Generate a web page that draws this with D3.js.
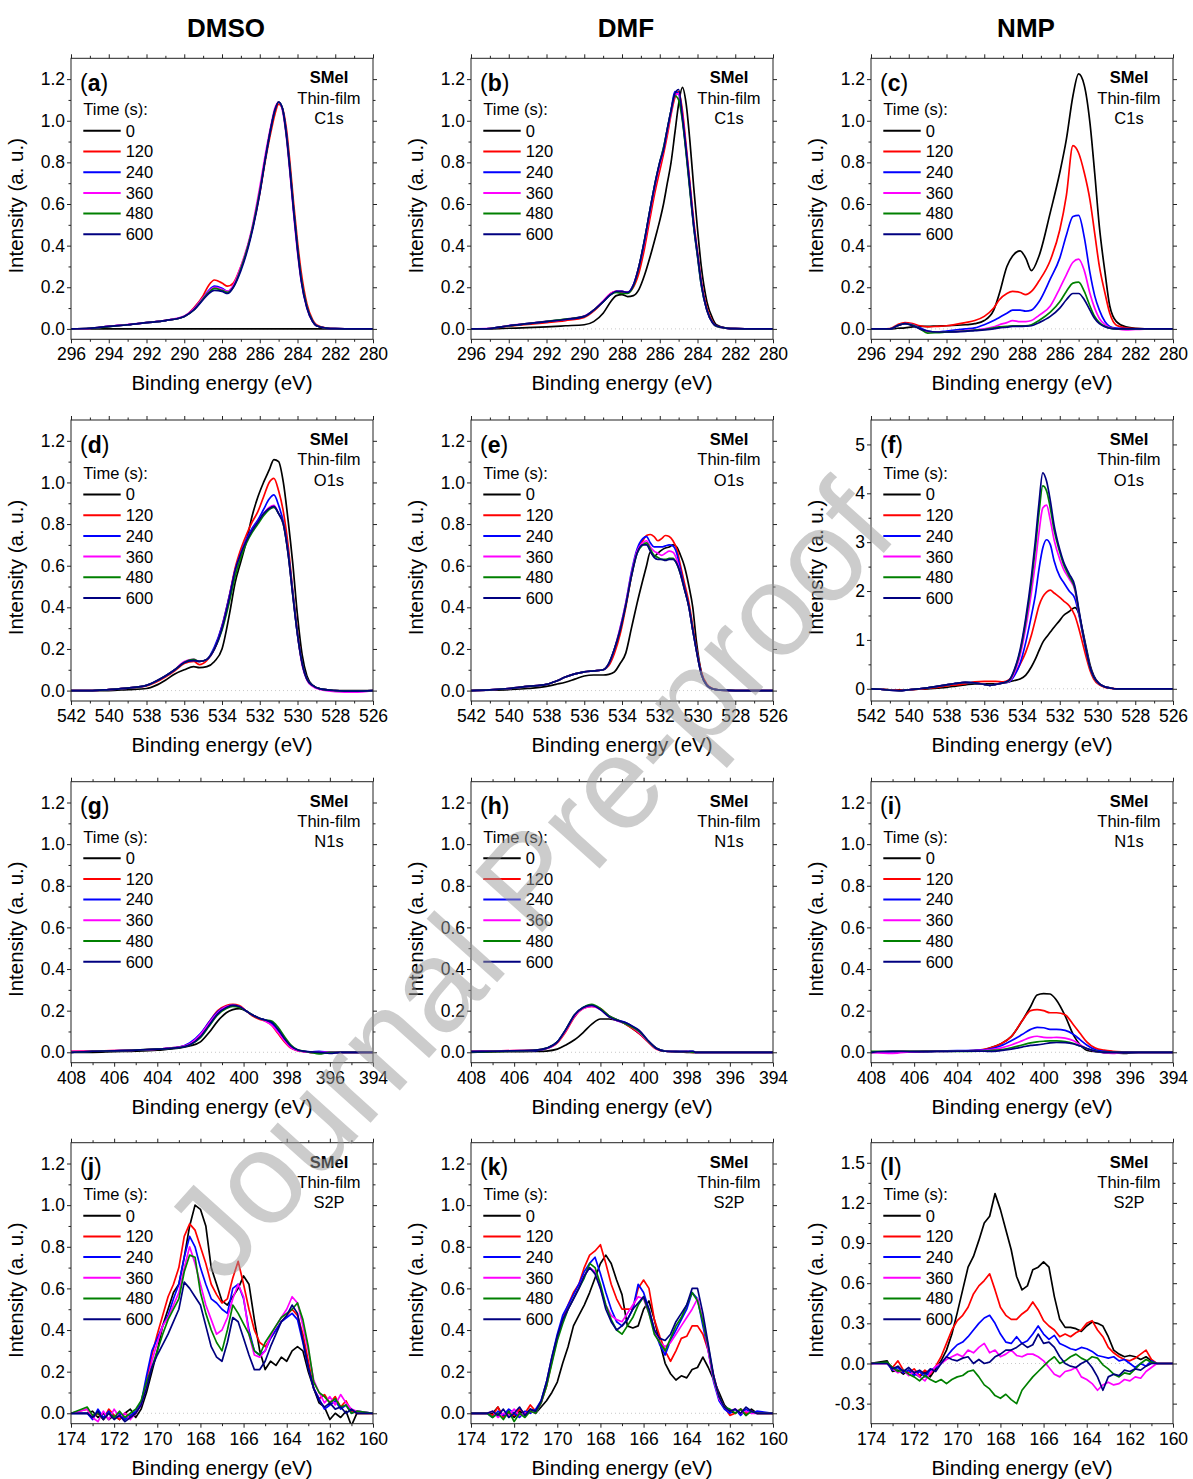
<!DOCTYPE html>
<html><head><meta charset="utf-8">
<script src="https://cdn.jsdelivr.net/npm/d3@7"></script>
<style>
body{margin:0;background:#fff}
svg{display:block}
text{font-family:"Liberation Sans",Arial,sans-serif;fill:#000}
</style></head>
<body><svg id="chart" width="1193" height="1479"></svg>
<script>
// ---------------- data ----------------
const solvents = ["DMSO", "DMF", "NMP"];
const times = ["0", "120", "240", "360", "480", "600"];
const seriesColors = ["#000000", "#ff0000", "#0000ff", "#ff00ff", "#008000", "#000080"];
const panelLetters = ["a","b","c","d","e","f","g","h","i","j","k","l"];
const coreLevels = ["C1s", "O1s", "N1s", "S2P"];
const sampleName = "SMeI";
const sampleType = "Thin-film";

const xTicksC = [296, 294, 292, 290, 288, 286, 284, 282, 280];
const xTicksO = [542, 540, 538, 536, 534, 532, 530, 528, 526];
const xTicksN = [408, 406, 404, 402, 400, 398, 396, 394];
const xTicksS = [174, 172, 170, 168, 166, 164, 162, 160];
const yTicksStd = [0, 0.2, 0.4, 0.6, 0.8, 1.0, 1.2];
const yTicksF = [0, 1, 2, 3, 4, 5];
const yTicksL = [-0.3, 0, 0.3, 0.6, 0.9, 1.2, 1.5];

// (a) DMSO C1s
const eA = [296,295,294,293,292,291,290,289.5,289,288.7,288.4,288,287.7,287.4,287,286.5,286,285.7,285.4,285.2,285,284.8,284.6,284.4,284.2,284,283.8,283.5,283.2,283,282.5,282,281,280];
const yA0 = [0,0,0,0,0,0,0,0,0,0,0,0,0,0,0,0,0,0,0,0,0,0,0,0,0,0,0,0,0,0,0,0,0,0];
const yA120 = [0,0.003,0.012,0.02,0.03,0.04,0.06,0.1,0.16,0.21,0.235,0.22,0.205,0.22,0.3,0.44,0.65,0.81,0.95,1.03,1.08,1.06,0.97,0.8,0.6,0.42,0.27,0.12,0.045,0.02,0.005,0.001,0,0];
const yA240 = [0,0.003,0.012,0.02,0.03,0.04,0.06,0.095,0.15,0.185,0.205,0.195,0.18,0.205,0.29,0.44,0.66,0.82,0.97,1.05,1.09,1.06,0.95,0.77,0.57,0.39,0.24,0.105,0.038,0.016,0.004,0.001,0,0];
const yA360 = [0,0.002,0.012,0.021,0.03,0.041,0.062,0.095,0.15,0.18,0.2,0.19,0.18,0.21,0.3,0.45,0.68,0.84,0.98,1.06,1.09,1.05,0.93,0.75,0.55,0.37,0.23,0.1,0.035,0.015,0.004,0.001,0,0];
const yA480 = [0,0.003,0.011,0.02,0.03,0.04,0.06,0.09,0.145,0.175,0.195,0.185,0.175,0.2,0.29,0.44,0.66,0.82,0.97,1.05,1.09,1.06,0.94,0.77,0.57,0.39,0.24,0.105,0.037,0.015,0.004,0.001,0,0];
const yA600 = [0,0.003,0.012,0.02,0.03,0.04,0.06,0.09,0.14,0.17,0.185,0.18,0.17,0.2,0.28,0.43,0.65,0.82,0.97,1.05,1.09,1.06,0.94,0.76,0.56,0.38,0.23,0.1,0.035,0.015,0.004,0.001,0,0];

// (b) DMF C1s
const eB = [296,295,294,293,292,291,290,289.5,289,288.6,288.3,288,287.7,287.4,287.1,286.8,286.5,286.2,286,285.8,285.6,285.4,285.2,285,284.8,284.6,284.4,284.2,284,283.8,283.5,283.2,283,282.5,282,281,280];
const yB0 = [0,0,0.003,0.006,0.01,0.015,0.02,0.035,0.075,0.13,0.16,0.165,0.155,0.16,0.19,0.26,0.35,0.45,0.52,0.6,0.7,0.8,0.94,1.08,1.16,1.08,0.9,0.68,0.48,0.3,0.13,0.05,0.02,0.005,0.001,0,0];
const yB120 = [0,0.002,0.013,0.022,0.03,0.04,0.055,0.085,0.13,0.17,0.18,0.175,0.175,0.2,0.27,0.39,0.54,0.68,0.76,0.84,0.93,1.03,1.11,1.14,1.05,0.88,0.7,0.52,0.37,0.23,0.1,0.035,0.015,0.004,0.001,0,0];
const yB240 = [0,0.002,0.015,0.025,0.035,0.045,0.06,0.09,0.13,0.165,0.18,0.18,0.175,0.21,0.3,0.43,0.58,0.72,0.8,0.87,0.96,1.05,1.14,1.13,1.01,0.85,0.67,0.49,0.35,0.21,0.09,0.03,0.013,0.004,0.001,0,0];
const yB360 = [0,0.003,0.016,0.026,0.036,0.046,0.062,0.09,0.135,0.17,0.18,0.18,0.175,0.21,0.3,0.42,0.57,0.71,0.79,0.86,0.95,1.04,1.12,1.13,1.03,0.86,0.68,0.5,0.36,0.22,0.09,0.03,0.013,0.004,0.001,0,0];
const yB480 = [0,0.002,0.015,0.025,0.036,0.047,0.06,0.09,0.13,0.165,0.175,0.17,0.17,0.205,0.3,0.43,0.58,0.72,0.8,0.87,0.96,1.05,1.12,1.1,1.0,0.84,0.66,0.49,0.35,0.21,0.09,0.03,0.013,0.004,0.001,0,0];
const yB600 = [0,0.002,0.015,0.025,0.035,0.045,0.06,0.09,0.13,0.165,0.18,0.18,0.175,0.21,0.3,0.43,0.58,0.72,0.8,0.86,0.96,1.05,1.13,1.15,1.02,0.86,0.68,0.5,0.36,0.22,0.09,0.03,0.015,0.004,0.001,0,0];

// (c) NMP C1s
const eC = [296,295,294.6,294.2,293.8,293.4,293,292.5,292,291,290.5,290,289.5,289.2,288.8,288.5,288.1,287.8,287.5,287.1,286.5,286,285.65,285.3,285,284.7,284.4,284.15,283.9,283.6,283.35,283,282.5,282,281,280];
const yC0 = [0,0,0.003,0.005,0.01,0.012,0.012,0.014,0.015,0.02,0.025,0.04,0.09,0.17,0.3,0.35,0.375,0.34,0.28,0.35,0.56,0.75,0.91,1.12,1.225,1.17,0.99,0.75,0.49,0.27,0.11,0.035,0.01,0.003,0,0];
const yC120 = [0,0.002,0.02,0.03,0.025,0.015,0.01,0.012,0.015,0.03,0.04,0.06,0.1,0.14,0.17,0.18,0.175,0.165,0.18,0.23,0.33,0.475,0.64,0.88,0.845,0.75,0.62,0.46,0.3,0.17,0.075,0.018,0.005,0.001,0,0];
const yC240 = [0,0,0.015,0.025,0.02,0.005,-0.01,-0.015,-0.01,0,0.005,0.02,0.04,0.055,0.075,0.09,0.09,0.085,0.09,0.13,0.24,0.34,0.45,0.54,0.545,0.44,0.27,0.16,0.09,0.034,0.012,0.004,0.001,0,0,0];
const yC360 = [0,0,0.015,0.025,0.02,0,-0.015,-0.015,-0.015,-0.008,-0.004,0,0.01,0.02,0.03,0.04,0.035,0.035,0.04,0.065,0.11,0.195,0.26,0.32,0.335,0.28,0.17,0.1,0.05,0.02,0.006,0,-0.005,-0.003,0,0];
const yC480 = [0,0,0.015,0.025,0.018,0,-0.02,-0.018,-0.015,-0.01,-0.006,-0.003,0.005,0.01,0.012,0.015,0.015,0.015,0.02,0.04,0.08,0.13,0.18,0.22,0.225,0.18,0.11,0.06,0.03,0.012,0.004,0,0,0,0,0];
const yC600 = [0,0,0.015,0.025,0.015,0,-0.01,-0.015,-0.015,-0.012,-0.008,-0.005,0,0.005,0.008,0.012,0.012,0.013,0.015,0.03,0.06,0.1,0.14,0.17,0.17,0.14,0.09,0.05,0.025,0.01,0.003,0,0,0,0,0];

// (d) DMSO O1s
const eD = [542,541,540,539,538,537.5,537,536.5,536,535.5,535.2,534.8,534.4,534,533.6,533.3,533,532.7,532.4,532.1,531.8,531.5,531.25,531,530.75,530.5,530.25,530,529.75,529.5,529.2,528.8,528,527,526];
const yD0 = [0,0,0,0.005,0.01,0.025,0.05,0.08,0.1,0.115,0.11,0.115,0.14,0.2,0.37,0.52,0.62,0.72,0.84,0.93,1.0,1.06,1.11,1.1,1.0,0.82,0.61,0.36,0.17,0.07,0.025,0.008,0,0,0];
const yD120 = [0,0,0.005,0.012,0.022,0.04,0.065,0.095,0.13,0.14,0.125,0.145,0.2,0.31,0.46,0.59,0.68,0.75,0.81,0.86,0.93,1.0,1.02,0.96,0.86,0.7,0.48,0.28,0.13,0.055,0.025,0.008,0,-0.003,0];
const yD240 = [0,0,0.005,0.012,0.025,0.045,0.07,0.1,0.135,0.145,0.14,0.15,0.21,0.31,0.46,0.58,0.66,0.73,0.78,0.82,0.87,0.92,0.94,0.89,0.81,0.67,0.47,0.27,0.13,0.055,0.025,0.008,0,-0.003,0];
const yD360 = [0,0,0.005,0.012,0.025,0.045,0.07,0.1,0.14,0.15,0.14,0.15,0.2,0.3,0.45,0.58,0.66,0.72,0.77,0.81,0.85,0.88,0.89,0.85,0.8,0.66,0.46,0.27,0.12,0.05,0.02,0.005,-0.005,-0.008,0];
const yD480 = [0,0,0.005,0.012,0.025,0.045,0.07,0.1,0.135,0.15,0.14,0.15,0.2,0.29,0.43,0.55,0.64,0.71,0.76,0.8,0.84,0.87,0.88,0.85,0.8,0.66,0.46,0.27,0.13,0.055,0.025,0.008,0,-0.003,0];
const yD600 = [0,0,0.005,0.012,0.025,0.045,0.07,0.1,0.135,0.145,0.14,0.15,0.2,0.3,0.45,0.58,0.66,0.72,0.77,0.81,0.85,0.875,0.885,0.85,0.8,0.66,0.46,0.27,0.13,0.055,0.025,0.008,0,-0.003,0];

// (e) DMF O1s
const eE = [542,541,540,539,538,537.5,537,536.5,536,535.5,535,534.7,534.4,534.1,533.8,533.5,533.2,532.9,532.7,532.5,532.3,532.1,531.9,531.7,531.5,531.3,531.1,530.9,530.7,530.45,530.25,530.05,529.8,529.5,529.2,528.8,528,526];
const yE0 = [0,0.002,0.005,0.01,0.02,0.03,0.04,0.055,0.07,0.075,0.075,0.078,0.09,0.13,0.18,0.3,0.42,0.53,0.6,0.665,0.645,0.66,0.675,0.685,0.69,0.7,0.69,0.65,0.6,0.5,0.4,0.23,0.09,0.025,0.008,0.002,0,0];
const yE120 = [0,0.003,0.01,0.02,0.03,0.045,0.065,0.08,0.09,0.095,0.1,0.12,0.18,0.27,0.4,0.55,0.67,0.72,0.745,0.75,0.74,0.72,0.73,0.745,0.74,0.72,0.68,0.6,0.52,0.42,0.31,0.2,0.09,0.03,0.01,0.002,0,0];
const yE240 = [0,0.003,0.01,0.02,0.03,0.045,0.065,0.08,0.09,0.095,0.1,0.13,0.2,0.3,0.42,0.57,0.68,0.73,0.74,0.71,0.69,0.69,0.69,0.695,0.7,0.695,0.66,0.58,0.5,0.4,0.29,0.19,0.08,0.025,0.008,0.002,0,0];
const yE360 = [0,0.003,0.01,0.02,0.03,0.045,0.065,0.08,0.09,0.095,0.1,0.13,0.2,0.3,0.42,0.56,0.67,0.71,0.72,0.69,0.67,0.66,0.65,0.66,0.67,0.665,0.63,0.56,0.49,0.4,0.29,0.19,0.08,0.025,0.008,0.002,0,0];
const yE480 = [0,0.003,0.01,0.02,0.03,0.045,0.065,0.08,0.09,0.095,0.1,0.13,0.2,0.29,0.41,0.55,0.66,0.7,0.71,0.68,0.65,0.64,0.63,0.63,0.635,0.635,0.61,0.56,0.49,0.4,0.29,0.19,0.08,0.025,0.008,0.002,0,0];
const yE600 = [0,0.003,0.01,0.02,0.03,0.045,0.065,0.08,0.09,0.095,0.1,0.13,0.2,0.29,0.41,0.55,0.66,0.7,0.7,0.67,0.64,0.63,0.63,0.625,0.63,0.63,0.61,0.56,0.49,0.4,0.29,0.19,0.08,0.025,0.008,0.002,0,0];

// (f) NMP O1s
const eF = [542,541.5,541,540.5,540,539.5,539,538.5,538,537.5,537,536.5,536,535.7,535.4,535,534.7,534.4,534.1,533.8,533.5,533.3,533.1,532.9,532.7,532.5,532.3,532,531.8,531.5,531.2,531,530.8,530.6,530.4,530.2,529.9,529.6,529.3,529,528,526];
const yF0 = [0,-0.01,-0.02,-0.02,-0.02,-0.01,0,0.015,0.03,0.055,0.08,0.1,0.1,0.1,0.1,0.12,0.14,0.17,0.2,0.28,0.45,0.6,0.78,0.95,1.06,1.16,1.26,1.4,1.5,1.58,1.66,1.55,1.22,0.85,0.5,0.27,0.1,0.04,0.015,0,0,0];
const yF120 = [0,-0.01,-0.02,-0.03,-0.02,-0.01,0.01,0.03,0.06,0.08,0.1,0.14,0.15,0.15,0.15,0.14,0.18,0.3,0.5,0.75,1.1,1.4,1.7,1.88,1.98,2.02,1.96,1.87,1.8,1.7,1.5,1.25,0.95,0.65,0.38,0.2,0.08,0.03,0.01,0,0,0];
const yF240 = [0,-0.01,-0.03,-0.04,-0.02,0,0.02,0.05,0.08,0.11,0.13,0.12,0.09,0.07,0.09,0.12,0.14,0.27,0.52,0.95,1.5,1.9,2.45,2.88,3.05,2.95,2.62,2.3,2.18,2.0,1.85,1.55,1.15,0.78,0.44,0.24,0.1,0.04,0.015,0,0,0];
const yF360 = [0,-0.01,-0.03,-0.04,-0.02,0,0.02,0.05,0.08,0.11,0.13,0.12,0.09,0.07,0.09,0.12,0.15,0.33,0.68,1.25,1.98,2.55,3.2,3.7,3.76,3.45,3.05,2.65,2.45,2.25,2.02,1.6,1.17,0.78,0.44,0.24,0.1,0.04,0.015,0,0,0];
const yF480 = [0,-0.01,-0.03,-0.04,-0.02,0,0.02,0.05,0.08,0.11,0.13,0.12,0.09,0.07,0.09,0.12,0.16,0.38,0.76,1.38,2.18,2.85,3.6,4.15,4.05,3.7,3.25,2.8,2.55,2.3,2.05,1.62,1.18,0.79,0.44,0.24,0.1,0.04,0.015,0,0,0];
const yF600 = [0,-0.01,-0.03,-0.04,-0.02,0,0.02,0.05,0.08,0.11,0.13,0.12,0.09,0.07,0.09,0.12,0.17,0.4,0.8,1.45,2.3,3.0,3.8,4.42,4.25,3.85,3.35,2.85,2.6,2.35,2.1,1.65,1.2,0.8,0.45,0.25,0.1,0.04,0.015,0,0,0];

// (g) DMSO N1s
const eG = [408,407,406,405,404,403.5,403,402.5,402,401.6,401.2,400.8,400.5,400.2,399.9,399.6,399.3,399,398.7,398.4,398.1,397.8,397.5,397.2,396.9,396.5,396,395.5,394];
const yG0 = [0,0,0.003,0.005,0.01,0.015,0.02,0.03,0.05,0.095,0.15,0.19,0.205,0.21,0.2,0.18,0.165,0.155,0.14,0.105,0.06,0.025,0.01,0.004,0,0,0,0,0];
const yG120 = [0.005,0.006,0.008,0.01,0.015,0.02,0.025,0.04,0.085,0.145,0.2,0.225,0.23,0.225,0.2,0.175,0.16,0.15,0.13,0.09,0.05,0.02,0.008,0.003,0,0,0,0,0];
const yG240 = [0,0.005,0.007,0.01,0.015,0.02,0.025,0.045,0.09,0.145,0.195,0.22,0.225,0.22,0.2,0.18,0.165,0.155,0.14,0.1,0.06,0.025,0.01,0.004,0.002,0.005,0,0,0];
const yG360 = [0.005,0.005,0.008,0.01,0.015,0.02,0.025,0.04,0.085,0.14,0.19,0.22,0.225,0.22,0.2,0.18,0.165,0.15,0.13,0.095,0.055,0.022,0.008,0.003,0,0,0,0,0];
const yG480 = [0,0.005,0.007,0.01,0.015,0.018,0.022,0.035,0.07,0.125,0.18,0.21,0.22,0.215,0.2,0.18,0.165,0.155,0.15,0.12,0.075,0.035,0.012,0.005,0,-0.008,0,0,0];
const yG600 = [0,0.005,0.007,0.01,0.015,0.018,0.022,0.035,0.075,0.13,0.185,0.215,0.225,0.22,0.2,0.18,0.165,0.155,0.145,0.11,0.065,0.03,0.012,0.005,0.002,0,-0.005,0,0];

// (h) DMF N1s
const eH = [408,407,406,405,404.5,404,403.6,403.2,402.8,402.4,402,401.6,401.2,400.9,400.6,400.2,399.8,399.4,399,398.5,398,397.7,397.6,396,394];
const yH0 = [0,0.002,0.003,0.004,0.006,0.015,0.035,0.06,0.095,0.135,0.16,0.16,0.152,0.14,0.12,0.09,0.055,0.02,0.006,0.003,0,0,0,0,0];
const yH120 = [0.005,0.006,0.008,0.01,0.018,0.045,0.1,0.17,0.21,0.22,0.21,0.175,0.155,0.14,0.12,0.09,0.05,0.015,0.005,0.003,0.002,0,0,0,0];
const yH240 = [0.003,0.005,0.007,0.008,0.018,0.05,0.11,0.175,0.215,0.225,0.205,0.175,0.155,0.145,0.13,0.1,0.055,0.018,0.006,0.004,0.005,0.005,0,0,0];
const yH360 = [0.005,0.006,0.008,0.01,0.018,0.048,0.105,0.175,0.21,0.22,0.205,0.17,0.15,0.14,0.125,0.095,0.052,0.016,0.005,0.003,0.004,0,0,0,0];
const yH480 = [0.003,0.004,0.006,0.01,0.02,0.05,0.11,0.18,0.215,0.23,0.21,0.175,0.155,0.14,0.125,0.1,0.055,0.018,0.005,0.003,0.003,0,0,0,0];
const yH600 = [0.003,0.005,0.007,0.01,0.02,0.05,0.11,0.18,0.215,0.225,0.205,0.17,0.152,0.145,0.13,0.105,0.058,0.018,0.005,0.003,0.003,0.005,0,0,0];

// (i) NMP N1s
const eI = [408,407,406,405,404,403,402.5,402,401.5,401,400.6,400.3,400,399.7,399.4,399,398.6,398.3,398,397.6,397.2,396.8,396.3,395.6,394];
const yI0 = [0,0.003,0.003,0.005,0.005,0.008,0.02,0.04,0.075,0.15,0.22,0.275,0.282,0.28,0.25,0.175,0.08,0.035,0.01,0.003,0,-0.003,-0.005,0,0];
const yI120 = [0,0.003,0.003,0.005,0.005,0.01,0.02,0.04,0.075,0.15,0.2,0.205,0.2,0.19,0.19,0.18,0.13,0.09,0.05,0.02,0.01,0.005,0.002,0,0];
const yI240 = [0,0.002,0.003,0.005,0.008,0.01,0.015,0.03,0.055,0.085,0.11,0.12,0.118,0.11,0.11,0.105,0.085,0.06,0.035,0.012,0.004,0,0,0,0];
const yI360 = [0,-0.005,0.003,0.004,0.005,0.008,0.012,0.02,0.035,0.055,0.072,0.077,0.072,0.07,0.072,0.068,0.055,0.035,0.018,0.005,-0.003,-0.005,0,0,0];
const yI480 = [0.005,0.005,0.005,0.004,0.004,0.005,0.008,0.012,0.022,0.035,0.045,0.05,0.053,0.055,0.055,0.052,0.042,0.03,0.018,0.006,0,0,0,0,0];
const yI600 = [0,0.005,0.003,0.004,0.005,0.006,0.004,0.008,0.015,0.025,0.033,0.036,0.04,0.045,0.047,0.046,0.04,0.03,0.018,0.005,0,0,0,0,0];

// S2P energy grid (j, k, l)
const eS = [174,173.25,173,172.75,172.5,172.25,172,171.75,171.5,171.25,171,170.75,170.5,170.25,170,169.75,169.5,169.25,169,168.75,168.5,168.25,168,167.75,167.5,167.25,167,166.75,166.5,166.25,166,165.75,165.5,165.25,165,164.75,164.5,164.25,164,163.75,163.5,163.25,163,162.75,162.5,162.25,162,161.75,161.5,161.25,161,160.75,160];

// (j) DMSO S2P
const yJ0 = [0, 0,0.01,-0.02,0,-0.03,-0.01,-0.03,0,0.02,-0.02, 0.02,0.1,0.2,0.3,0.42,0.5,0.58,0.62,0.75,0.9, 1.0,0.98,0.9,0.7,0.62,0.54,0.52,0.56,0.6,0.66, 0.62,0.45,0.3,0.21,0.25,0.23,0.27,0.25,0.3,0.32, 0.3,0.2,0.12,0.05,0.03,-0.03,0,-0.02,0.01,-0.06,0, 0];
const yJ120 = [0, 0.02,-0.02,0,-0.03,0.02,-0.01,-0.03,0,-0.02,0, 0.05,0.15,0.28,0.38,0.47,0.56,0.62,0.7,0.85,0.91, 0.88,0.8,0.72,0.62,0.57,0.53,0.55,0.65,0.73,0.62, 0.5,0.4,0.34,0.32,0.36,0.4,0.44,0.47,0.5,0.47, 0.38,0.25,0.12,0.07,0.09,0.05,0.08,0.03,0.06,0.01,0, 0];
const yJ240 = [0, 0,-0.03,0.02,-0.02,0.01,-0.02,0,-0.03,-0.01,0.01, 0.05,0.18,0.3,0.36,0.42,0.47,0.55,0.62,0.75,0.85, 0.8,0.7,0.62,0.55,0.53,0.5,0.48,0.6,0.62,0.55, 0.4,0.3,0.28,0.3,0.36,0.4,0.44,0.46,0.48,0.45, 0.34,0.22,0.12,0.07,0.02,0.04,0.06,0.02,0.04,0,0.01, 0];
const yJ360 = [0, 0.02,-0.02,-0.04,0.01,-0.03,0.02,-0.02,0,-0.03,0, 0.04,0.13,0.25,0.34,0.42,0.46,0.52,0.58,0.7,0.8, 0.72,0.62,0.52,0.45,0.38,0.4,0.46,0.55,0.62,0.56, 0.38,0.28,0.27,0.3,0.37,0.42,0.46,0.5,0.56,0.53, 0.42,0.3,0.16,0.1,0.05,0.08,0.04,0.09,0.05,0.02,0.01, 0];
const yJ480 = [0, 0.03,-0.01,0,-0.03,0,-0.02,0.01,-0.02,0,0.02, 0.06,0.15,0.22,0.3,0.38,0.45,0.5,0.55,0.68,0.76, 0.75,0.58,0.48,0.4,0.34,0.3,0.4,0.52,0.48,0.43, 0.38,0.3,0.28,0.34,0.38,0.42,0.46,0.48,0.5,0.53, 0.45,0.32,0.15,0.1,0.08,0.05,0.07,0.03,0.04,0,0.01, 0];
const yJ600 = [0, 0,-0.02,0.01,-0.03,0,-0.03,-0.01,-0.04,-0.02,0, 0.04,0.12,0.22,0.28,0.33,0.38,0.44,0.5,0.63,0.6, 0.56,0.52,0.42,0.32,0.27,0.25,0.34,0.46,0.44,0.36, 0.28,0.21,0.21,0.25,0.32,0.38,0.44,0.47,0.52,0.48, 0.35,0.22,0.12,0.06,0.03,0.05,0.02,0.03,0,0.02,0, 0];

// (k) DMF S2P
const yK0 = [0, 0,0,0.03,-0.02,0.01,-0.02,0.01,-0.01,0.02,0, 0.03,0.06,0.1,0.15,0.24,0.32,0.42,0.47,0.52,0.58, 0.65,0.72,0.76,0.72,0.64,0.57,0.42,0.41,0.42,0.5, 0.54,0.45,0.34,0.24,0.19,0.16,0.18,0.17,0.21,0.22, 0.27,0.22,0.16,0.1,0.04,0.01,0,0.02,-0.01,0.02,0, 0];
const yK120 = [0, 0,-0.01,0.03,-0.02,0,-0.01,0.02,0,0.04,0.01, 0.05,0.13,0.25,0.36,0.45,0.52,0.58,0.62,0.7,0.76, 0.78,0.81,0.72,0.62,0.55,0.5,0.5,0.5,0.6,0.64, 0.6,0.45,0.37,0.3,0.25,0.3,0.36,0.37,0.42,0.42, 0.38,0.3,0.18,0.08,0.03,-0.01,0,0.02,0,0.01,0, 0];
const yK240 = [0, 0,-0.02,0.01,-0.01,0.02,0,-0.02,0.01,0,0.02, 0.06,0.15,0.27,0.38,0.47,0.52,0.57,0.62,0.68,0.72, 0.75,0.67,0.58,0.5,0.44,0.42,0.45,0.5,0.62,0.58, 0.5,0.4,0.33,0.28,0.35,0.4,0.45,0.5,0.58,0.55, 0.42,0.3,0.15,0.06,0.02,0,0.02,-0.01,0.02,0,0.01, 0];
const yK360 = [0, 0,0.01,-0.02,0,-0.01,0.02,-0.01,0,0.01,0, 0.05,0.14,0.26,0.36,0.44,0.5,0.55,0.6,0.66,0.7, 0.68,0.6,0.52,0.47,0.45,0.44,0.48,0.52,0.56,0.55, 0.48,0.4,0.34,0.32,0.34,0.38,0.42,0.46,0.5,0.55, 0.45,0.3,0.16,0.07,0.03,0.01,0.02,0,0.01,0,0, 0];
const yK480 = [0, 0,-0.02,0,-0.03,0.01,-0.04,0,-0.02,0.01,0, 0.05,0.13,0.24,0.35,0.43,0.5,0.55,0.6,0.65,0.72, 0.7,0.62,0.52,0.45,0.4,0.38,0.42,0.46,0.52,0.56, 0.48,0.38,0.34,0.3,0.36,0.42,0.46,0.52,0.58,0.54, 0.44,0.32,0.17,0.08,0.03,0.02,0,0.02,-0.01,0.01,0, 0];
const yK600 = [0, 0,0.01,-0.01,0.02,-0.02,0,0.03,-0.01,0.02,0.01, 0.06,0.15,0.27,0.37,0.45,0.5,0.55,0.6,0.66,0.7, 0.67,0.6,0.5,0.44,0.4,0.42,0.45,0.5,0.53,0.56, 0.5,0.4,0.36,0.35,0.38,0.44,0.48,0.52,0.6,0.6, 0.48,0.33,0.18,0.08,0.03,0.01,0.02,0,0.03,0.01,0, 0];

// (l) NMP S2P
const yL0 = [0, 0.02,-0.06,-0.05,-0.08,-0.05,-0.07,-0.1,-0.06,-0.1,-0.04, 0.02,0.1,0.22,0.38,0.55,0.72,0.8,0.92,1.05,1.1, 1.27,1.15,1.0,0.85,0.65,0.55,0.58,0.7,0.72,0.76, 0.72,0.5,0.33,0.27,0.27,0.26,0.24,0.28,0.31,0.3, 0.28,0.2,0.1,0.07,0.05,0.06,0.05,0.03,0.05,0.02,0, 0];
const yL120 = [0, 0,-0.03,0.02,-0.05,-0.07,-0.04,-0.09,-0.05,-0.08,-0.02, 0.05,0.15,0.25,0.32,0.36,0.42,0.52,0.58,0.62,0.67, 0.55,0.42,0.36,0.33,0.33,0.37,0.4,0.46,0.4,0.32, 0.28,0.25,0.2,0.22,0.2,0.23,0.25,0.3,0.32,0.25, 0.2,0.12,0.08,0.05,0.03,0.02,0.04,0.07,0.1,0.03,0, 0];
const yL240 = [0, 0,-0.05,-0.03,-0.07,-0.05,-0.09,-0.06,-0.1,-0.05,-0.03, 0,0.05,0.1,0.14,0.16,0.2,0.25,0.3,0.34,0.36, 0.3,0.22,0.16,0.15,0.2,0.15,0.17,0.22,0.28,0.22, 0.18,0.21,0.15,0.13,0.11,0.1,0.12,0.11,0.09,0.06, 0.05,0.04,0.05,0.02,0.03,0,-0.03,0,-0.02,0.02,0, 0];
const yL360 = [0, 0,-0.04,-0.07,-0.05,-0.09,-0.06,-0.1,-0.13,-0.07,-0.02, 0,0.03,0.05,0.07,0.05,0.1,0.08,0.12,0.15,0.08, 0.1,0.05,0.07,0.1,0.06,0.05,0.07,0.07,0.05,0.02, -0.03,-0.08,-0.1,-0.06,-0.05,-0.03,-0.1,-0.12,-0.15,-0.2, -0.16,-0.14,-0.16,-0.15,-0.12,-0.13,-0.1,-0.11,-0.06,-0.03,0, 0];
const yL480 = [0, 0.01,-0.03,-0.06,-0.05,-0.08,-0.1,-0.13,-0.09,-0.12,-0.14, -0.12,-0.15,-0.12,-0.1,-0.09,-0.06,-0.05,-0.1,-0.16,-0.19, -0.24,-0.26,-0.23,-0.27,-0.3,-0.2,-0.15,-0.1,-0.06,-0.02, 0.02,0.05,0,0.02,0.05,0.07,0.04,0.02,0.05,0.04, -0.01,-0.04,-0.08,-0.1,-0.07,-0.08,-0.04,0,0.03,0.01,0, 0];
const yL600 = [0, 0,-0.04,-0.02,-0.06,-0.03,-0.07,-0.05,-0.08,-0.04,-0.06, 0,0.05,0.03,0.02,0.04,0.05,0,0.03,0,0.01, 0.05,0.07,0.1,0.1,0.12,0.15,0.12,0.14,0.22,0.15, 0.16,0.12,0.05,0,-0.02,-0.03,0,0.02,-0.03,-0.1, -0.2,-0.1,-0.08,-0.09,-0.05,-0.06,-0.04,-0.05,-0.02,0,0, 0];

// ---------------- panel table ----------------
const panels = [
  {e: eA, ys: [yA0, yA120, yA240, yA360, yA480, yA600], xt: xTicksC, yt: yTicksStd, yd: [-0.05, 1.3], noisy: false},
  {e: eB, ys: [yB0, yB120, yB240, yB360, yB480, yB600], xt: xTicksC, yt: yTicksStd, yd: [-0.05, 1.3], noisy: false},
  {e: eC, ys: [yC0, yC120, yC240, yC360, yC480, yC600], xt: xTicksC, yt: yTicksStd, yd: [-0.05, 1.3], noisy: false},
  {e: eD, ys: [yD0, yD120, yD240, yD360, yD480, yD600], xt: xTicksO, yt: yTicksStd, yd: [-0.05, 1.3], noisy: false},
  {e: eE, ys: [yE0, yE120, yE240, yE360, yE480, yE600], xt: xTicksO, yt: yTicksStd, yd: [-0.05, 1.3], noisy: false},
  {e: eF, ys: [yF0, yF120, yF240, yF360, yF480, yF600], xt: xTicksO, yt: yTicksF, yd: [-0.25, 5.5], noisy: false, intLabels: true},
  {e: eG, ys: [yG0, yG120, yG240, yG360, yG480, yG600], xt: xTicksN, yt: yTicksStd, yd: [-0.05, 1.3], noisy: false},
  {e: eH, ys: [yH0, yH120, yH240, yH360, yH480, yH600], xt: xTicksN, yt: yTicksStd, yd: [-0.05, 1.3], noisy: false},
  {e: eI, ys: [yI0, yI120, yI240, yI360, yI480, yI600], xt: xTicksN, yt: yTicksStd, yd: [-0.05, 1.3], noisy: false},
  {e: eS, ys: [yJ0, yJ120, yJ240, yJ360, yJ480, yJ600], xt: xTicksS, yt: yTicksStd, yd: [-0.05, 1.3], noisy: true},
  {e: eS, ys: [yK0, yK120, yK240, yK360, yK480, yK600], xt: xTicksS, yt: yTicksStd, yd: [-0.05, 1.3], noisy: true},
  {e: eS, ys: [yL0, yL120, yL240, yL360, yL480, yL600], xt: xTicksS, yt: yTicksL, yd: [-0.45, 1.65], noisy: true}
];

// ---------------- layout ----------------
const W = 302, H = 281;
const colLeft = [71, 471, 871];
const rowTop = [58.3, 420, 781.7, 1142.7];
const legendTitleOffset = [57, 59, 61, 57.5];

const svg = d3.select("#chart");
svg.append("rect").attr("width", 1193).attr("height", 1479).attr("fill", "#fff");

// column titles
solvents.forEach((s, c) => {
  svg.append("text").attr("x", colLeft[c] + W / 2 + 4).attr("y", 37)
    .attr("text-anchor", "middle").attr("font-size", 26).attr("font-weight", "bold").text(s);
});

const frameColor = "#222";

panels.forEach((p, idx) => {
  const row = Math.floor(idx / 3), col = idx % 3;
  const left = colLeft[col], top = rowTop[row];
  const g = svg.append("g").attr("transform", `translate(${left},${top})`);
  const xd = [p.xt[0], p.xt[p.xt.length - 1]];
  const x = d3.scaleLinear().domain(xd).range([0, W]);
  const y = d3.scaleLinear().domain(p.yd).range([H, 0]);

  const clipId = "clip" + idx;
  g.append("clipPath").attr("id", clipId).append("rect").attr("width", W).attr("height", H);

  // zero reference line
  g.append("line").attr("x1", 0).attr("x2", W).attr("y1", y(0)).attr("y2", y(0))
    .attr("stroke", "#c8c8c8").attr("stroke-width", 1).attr("stroke-dasharray", "1,3");

  const line = d3.line().x(d => x(d[0])).y(d => y(d[1]))
    .curve(p.noisy ? d3.curveLinear : d3.curveMonotoneX);
  const dg = g.append("g").attr("clip-path", `url(#${clipId})`);
  p.ys.forEach((ys, s) => {
    const pts = p.e.map((e, i) => [e, ys[i]]);
    dg.append("path").datum(pts).attr("d", line).attr("fill", "none")
      .attr("stroke", seriesColors[s]).attr("stroke-width", 1.7).attr("stroke-linejoin", "round");
  });

  // frame
  g.append("rect").attr("width", W).attr("height", H).attr("fill", "none")
    .attr("stroke", frameColor).attr("stroke-width", 1);

  // ticks
  const xMinor = d3.pairs(p.xt).map(([a, b]) => (a + b) / 2);
  const yMinor = d3.pairs(p.yt).map(([a, b]) => (a + b) / 2);
  const yFmt = p.intLabels ? (v => String(v)) : (v => v.toFixed(1));

  const styleAxis = (sel, labels) => {
    sel.select(".domain").remove();
    sel.selectAll(".tick line").attr("stroke", frameColor);
    if (!labels) sel.selectAll(".tick text").remove();
    else sel.selectAll(".tick text").attr("font-size", 17.5).attr("fill", "#000")
      .attr("font-family", '"Liberation Sans",Arial,sans-serif');
  };

  g.append("g").attr("transform", `translate(0,${H})`)
    .call(d3.axisBottom(x).tickValues(p.xt).tickSize(4).tickPadding(4.5).tickFormat(d3.format("d")))
    .call(s => styleAxis(s, true));
  g.append("g").attr("transform", `translate(0,${H})`)
    .call(d3.axisBottom(x).tickValues(xMinor).tickSize(2.5)).call(s => styleAxis(s, false));
  g.append("g").call(d3.axisTop(x).tickValues(p.xt).tickSize(4)).call(s => styleAxis(s, false));
  g.append("g").call(d3.axisTop(x).tickValues(xMinor).tickSize(2.5)).call(s => styleAxis(s, false));

  g.append("g").call(d3.axisLeft(y).tickValues(p.yt).tickSize(4).tickPadding(2).tickFormat(yFmt))
    .call(s => styleAxis(s, true));
  g.append("g").call(d3.axisLeft(y).tickValues(yMinor).tickSize(2.5)).call(s => styleAxis(s, false));
  g.append("g").attr("transform", `translate(${W},0)`)
    .call(d3.axisRight(y).tickValues(p.yt).tickSize(4)).call(s => styleAxis(s, false));
  g.append("g").attr("transform", `translate(${W},0)`)
    .call(d3.axisRight(y).tickValues(yMinor).tickSize(2.5)).call(s => styleAxis(s, false));

  // axis titles
  g.append("text").attr("x", W / 2).attr("y", H + 51).attr("text-anchor", "middle")
    .attr("font-size", 20.5).text("Binding energy (eV)");
  g.append("text").attr("transform", `translate(-48,${H / 2 + 7}) rotate(-90)`)
    .attr("text-anchor", "middle").attr("font-size", 20.5).text("Intensity (a. u.)");

  // panel label
  const pl = g.append("text").attr("x", 9).attr("y", 32.5).attr("font-size", 23);
  pl.append("tspan").text("(");
  pl.append("tspan").attr("font-weight", "bold").text(panelLetters[idx]);
  pl.append("tspan").text(")");

  // sample info
  const cx = W - 44;
  g.append("text").attr("x", cx).attr("y", 25).attr("text-anchor", "middle")
    .attr("font-size", 16.5).attr("font-weight", "bold").text(sampleName);
  g.append("text").attr("x", cx).attr("y", 45.3).attr("text-anchor", "middle")
    .attr("font-size", 16.5).text(sampleType);
  g.append("text").attr("x", cx).attr("y", 65.6).attr("text-anchor", "middle")
    .attr("font-size", 16.5).text(coreLevels[row]);

  // legend
  const lt = legendTitleOffset[row];
  g.append("text").attr("x", 12.3).attr("y", lt).attr("font-size", 16.5).text("Time (s):");
  times.forEach((t, s) => {
    const yy = lt + 15.5 + s * 20.7;
    g.append("line").attr("x1", 12.3).attr("x2", 49.7).attr("y1", yy).attr("y2", yy)
      .attr("stroke", seriesColors[s]).attr("stroke-width", 2);
    g.append("text").attr("x", 54.7).attr("y", yy + 5.9).attr("font-size", 16.5).text(t);
  });
});

// watermark
svg.append("text").attr("transform", "translate(528,880) rotate(-48)")
  .attr("text-anchor", "middle").attr("dominant-baseline", "central")
  .attr("font-size", 131).attr("opacity", 0.5)
  .style("fill", "#9b9b9b").text("Journal Pre-proof");
</script>
</body></html>
